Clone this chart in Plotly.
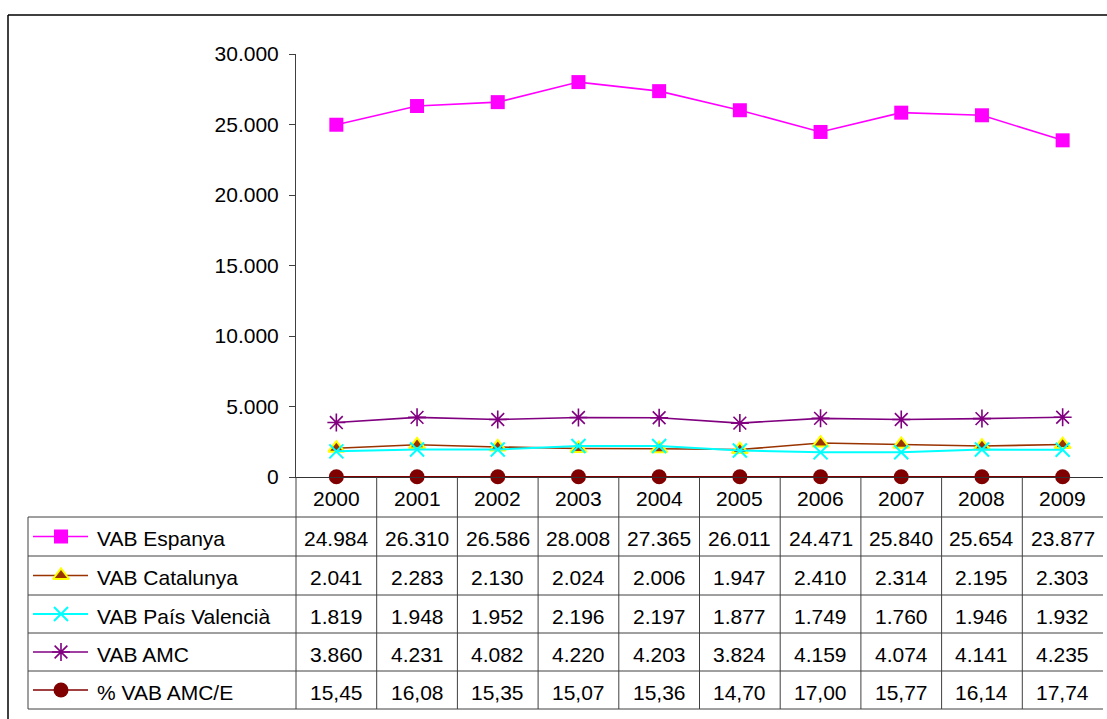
import plotly.graph_objects as go

# ---------------- data ----------------
years = ["2000", "2001", "2002", "2003", "2004", "2005", "2006", "2007", "2008", "2009"]
vab_espanya = [24984, 26310, 26586, 28008, 27365, 26011, 24471, 25840, 25654, 23877]
vab_catalunya = [2041, 2283, 2130, 2024, 2006, 1947, 2410, 2314, 2195, 2303]
vab_valencia = [1819, 1948, 1952, 2196, 2197, 1877, 1749, 1760, 1946, 1932]
vab_amc = [3860, 4231, 4082, 4220, 4203, 3824, 4159, 4074, 4141, 4235]
pct_amc_e = [15.45, 16.08, 15.35, 15.07, 15.36, 14.70, 17.00, 15.77, 16.14, 17.74]
series_names = ["VAB Espanya", "VAB Catalunya", "VAB País Valencià", "VAB AMC", "% VAB AMC/E"]
y_ticks = [0, 5000, 10000, 15000, 20000, 25000, 30000]

# ---------------- layout constants (pixels) ----------------
W, H = 1107, 719
PX0, PX1 = 296, 1103          # plot area x
PY_TOP, PY_BOT = 54, 477      # plot area y
ROW_Y = [517, 556, 595, 633, 671, 709]   # table row boundaries
TBL_X0 = 28
KEY_X = [33, 61, 88]
TXT_X = 95
FONT = "Liberation Sans, Arial, Helvetica, sans-serif"
FS = 21


def px(x):
    return x / W


def py(y):
    return 1 - y / H


styles = [
    dict(line=dict(color="#FF00FF", width=1.6),
         marker=dict(symbol="square", size=14, color="#FF00FF")),
    dict(line=dict(color="#993300", width=1.6),
         marker=dict(symbol="triangle-up", size=14, color="#993300",
                     line=dict(color="#FFFF00", width=2))),
    dict(line=dict(color="#00FFFF", width=2),
         marker=dict(symbol="x-thin-open", size=14, color="#00FFFF",
                     line=dict(color="#00FFFF", width=2))),
    dict(line=dict(color="#800080", width=1.6),
         marker=dict(symbol="asterisk-open", size=15, color="#800080",
                     line=dict(color="#800080", width=1.6))),
    dict(line=dict(color="#800000", width=1.6),
         marker=dict(symbol="circle", size=15, color="#800000")),
]
all_series = [vab_espanya, vab_catalunya, vab_valencia, vab_amc, pct_amc_e]

fig = go.Figure()

# main series
for name, vals, st in zip(series_names, all_series, styles):
    fig.add_trace(go.Scatter(
        x=years, y=vals, name=name, mode="lines+markers",
        line=st["line"], marker=st["marker"], cliponaxis=False,
        showlegend=False, xaxis="x", yaxis="y"))

# legend keys inside the table (overlay pixel axis)
for i, st in enumerate(styles):
    yc = (ROW_Y[i] + ROW_Y[i + 1]) / 2
    mk = dict(st["marker"])
    mk["opacity"] = [0, 1, 0]
    fig.add_trace(go.Scatter(
        x=KEY_X, y=[yc, yc, yc], mode="lines+markers",
        line=st["line"], marker=mk, cliponaxis=False,
        showlegend=False, hoverinfo="skip", xaxis="x2", yaxis="y2"))

shapes = []
ann = []
LC = "#404040"


def hline(y, x0, x1, color=LC, w=1):
    shapes.append(dict(type="line", xref="paper", yref="paper",
                       x0=px(x0), x1=px(x1), y0=py(y), y1=py(y),
                       line=dict(color=color, width=w)))


# outer chart border (top and left visible)
hline(15, 8, W, "black", 1.5)
shapes.append(dict(type="line", xref="paper", yref="paper", x0=px(8), x1=px(8),
                   y0=py(15), y1=0, line=dict(color="black", width=1.5)))

# table horizontal lines
for y in ROW_Y:
    hline(y, TBL_X0, PX1)
# table left border
shapes.append(dict(type="line", xref="paper", yref="paper", x0=px(TBL_X0), x1=px(TBL_X0),
                   y0=py(ROW_Y[0]), y1=py(ROW_Y[-1]), line=dict(color=LC, width=1)))
# y-axis extension through the table
shapes.append(dict(type="line", xref="paper", yref="paper", x0=px(PX0), x1=px(PX0),
                   y0=py(PY_BOT), y1=py(ROW_Y[-1]), line=dict(color=LC, width=1)))
# column separators
for i in range(1, len(years)):
    shapes.append(dict(type="line", xref="x", yref="paper", x0=i - 0.5, x1=i - 0.5,
                       y0=py(PY_BOT), y1=py(ROW_Y[-1]), line=dict(color=LC, width=1)))

# header years
for j, yr in enumerate(years):
    ann.append(dict(x=j, y=py((PY_BOT + ROW_Y[0]) / 2 + 1), xref="x", yref="paper",
                    text=yr, showarrow=False, xanchor="center", yanchor="middle",
                    font=dict(family=FONT, size=FS, color="black")))

# table rows
for i, (name, vals) in enumerate(zip(series_names, all_series)):
    yc = (ROW_Y[i] + ROW_Y[i + 1]) / 2 + 2
    ann.append(dict(x=px(TXT_X), y=py(yc), xref="paper", yref="paper", text=name,
                    showarrow=False, xanchor="left", yanchor="middle",
                    font=dict(family=FONT, size=FS, color="black")))
    for j, v in enumerate(vals):
        if i == 4:
            txt = f"{v:.2f}".replace(".", ",")
        else:
            txt = f"{v:,}".replace(",", ".")
        ann.append(dict(x=j, y=py(yc), xref="x", yref="paper", text=txt,
                        showarrow=False, xanchor="center", yanchor="middle",
                        font=dict(family=FONT, size=FS, color="black")))

fig.update_layout(
    width=W, height=H, autosize=False,
    margin=dict(l=0, r=0, t=0, b=0, pad=0, autoexpand=False),
    paper_bgcolor="white", plot_bgcolor="rgba(0,0,0,0)",
    separators=",.",
    showlegend=False,
    font=dict(family=FONT, size=FS, color="black"),
    xaxis=dict(domain=[px(PX0), px(PX1)], type="category", range=[-0.5, len(years) - 0.5],
               showticklabels=False, ticks="", showgrid=False, zeroline=False,
               showline=True, linecolor="#333333", linewidth=1, fixedrange=True,
               automargin=False),
    yaxis=dict(domain=[py(PY_BOT), py(PY_TOP)], range=[0, 30000],
               tickvals=y_ticks, tickformat=",d", showgrid=False, zeroline=False,
               showline=True, linecolor=LC, linewidth=1,
               ticks="outside", ticklen=6, tickcolor=LC, ticklabelstandoff=6,
               tickfont=dict(family=FONT, size=FS, color="black"), fixedrange=True,
               automargin=False),
    xaxis2=dict(domain=[0, 1], range=[0, W], visible=False, fixedrange=True,
                automargin=False),
    yaxis2=dict(domain=[0, 1], range=[H, 0], visible=False, fixedrange=True,
                automargin=False),
    shapes=shapes,
    annotations=ann,
)

fig.write_html(
    "out.html",
    config={"displayModeBar": False, "staticPlot": True},
    post_script="document.body.style.margin='0';document.body.style.overflow='hidden';",
)
